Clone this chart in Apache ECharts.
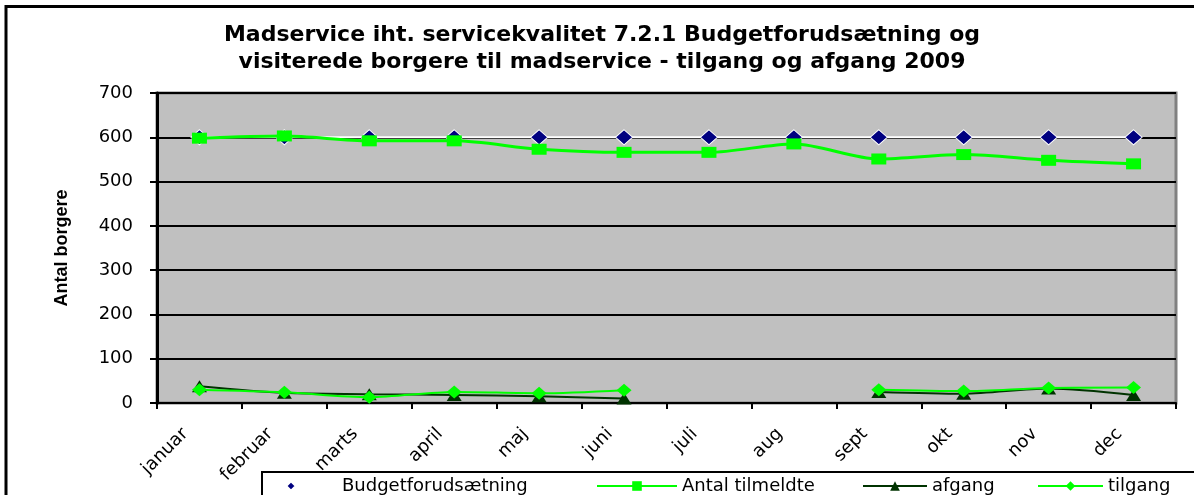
<!DOCTYPE html>
<html>
<head>
<meta charset="utf-8">
<script src="https://cdn.jsdelivr.net/npm/echarts@6/dist/echarts.min.js"></script>
<style>
html,body{margin:0;padding:0;background:#fff;}
#chart{width:1194px;height:495px;}
</style>
</head>
<body>
<div id="chart"></div>
<script>
const titleLines = ['Madservice iht. servicekvalitet 7.2.1 Budgetforudsætning og', 'visiterede borgere til madservice - tilgang og afgang 2009'];
const yAxisName = 'Antal borgere';
const months = ['januar','februar','marts','april','maj','juni','juli','aug','sept','okt','nov','dec'];
const yTicks = { min: 0, max: 700, interval: 100 };
const seriesNames = ['Budgetforudsætning','Antal tilmeldte','afgang','tilgang'];
const budget = [600,600,600,600,600,600,600,600,600,600,600,600];
const antalTilmeldte = [598,603,592,592,573,566,566,585,551,561,548,540];
const afgang = [38,23,20,18,15,10,null,null,25,21,33,18];
const tilgang = [30,24,13,25,22,29,null,null,30,27,34,35];

const FONT = 'DejaVu Sans';
const chart = echarts.init(document.getElementById('chart'), null, {renderer:'canvas'});
const legendText = {fontFamily: FONT, fontSize: 18, color: '#000'};
const option = {
  animation: false,
  backgroundColor: '#fff',
  title: {
    text: titleLines.join('\n'),
    left: 602, textAlign: 'center', top: 22, padding: 0,
    textStyle: {fontFamily: FONT, fontWeight: 'bold', fontSize: 22, lineHeight: 27, color: '#000'}
  },
  graphic: [
    {type:'rect', shape:{x:6, y:6.5, width:1250, height:600}, style:{fill:null, stroke:'#000', lineWidth:3}, silent:true},
    {type:'rect', shape:{x:262, y:472, width:1000, height:60}, style:{fill:'#fff', stroke:'#000', lineWidth:2}, silent:true, z:5}
  ],
  legend: [
    {data:[seriesNames[0]], left: 282, top: 477, itemWidth: 16, itemHeight: 12, itemGap: 0, padding: 0, textStyle: Object.assign({}, legendText, {padding:[0,0,0,38]}), z: 10},
    {data:[seriesNames[1]], left: 596, top: 477, itemWidth: 80, itemHeight: 12, padding: 0, textStyle: legendText, z: 10},
    {data:[seriesNames[2]], left: 862, top: 477, itemWidth: 64, itemHeight: 12, padding: 0, textStyle: legendText, z: 10},
    {data:[seriesNames[3]], left: 1037, top: 477, itemWidth: 65, itemHeight: 12, padding: 0, textStyle: legendText, z: 10}
  ],
  grid: {
    left: 157, right: 18, top: 93, bottom: 92,
    show: true, backgroundColor: '#C0C0C0', borderColor: '#808080', borderWidth: 3
  },
  xAxis: {
    type: 'category', data: months, boundaryGap: true,
    axisLine: {lineStyle: {color: '#000', width: 2}},
    axisTick: {show: true, interval: 0, length: 6, lineStyle: {color: '#000', width: 2}},
    axisLabel: {interval: 0, rotate: 45, margin: 14, padding: [0, 20, 0, 0], fontFamily: FONT, fontSize: 18, color: '#000'}
  },
  yAxis: {
    type: 'value', min: yTicks.min, max: yTicks.max, interval: yTicks.interval,
    name: yAxisName, nameLocation: 'middle', nameRotate: 90, nameGap: 86,
    nameTextStyle: {fontFamily: 'Liberation Sans', fontWeight: 'bold', fontSize: 18, color: '#000'},
    axisLine: {show: true, lineStyle: {color: '#000', width: 3}},
    axisTick: {show: true, length: 7, lineStyle: {color: '#000', width: 2}},
    axisLabel: {fontFamily: FONT, fontSize: 18, color: '#000', margin: 24},
    splitLine: {show: true, lineStyle: {color: '#000', width: 2}}
  },
  series: [
    {
      name: seriesNames[0], type: 'line', data: budget,
      symbol: 'diamond', symbolSize: [17, 15],
      lineStyle: {color: '#fff', width: 2},
      itemStyle: {color: '#000080', borderColor: '#fff', borderWidth: 1},
      z: 2
    },
    {
      name: seriesNames[1], type: 'line', data: antalTilmeldte, smooth: 0.3,
      symbol: 'rect', symbolSize: [15, 11],
      lineStyle: {color: '#00FF00', width: 3},
      itemStyle: {color: '#00FF00', borderWidth: 0},
      z: 3
    },
    {
      name: seriesNames[2], type: 'line', data: afgang, smooth: 0.3, connectNulls: false,
      symbol: 'triangle', symbolSize: [15, 12],
      lineStyle: {color: '#003300', width: 2},
      itemStyle: {color: '#003300', borderWidth: 0},
      z: 4
    },
    {
      name: seriesNames[3], type: 'line', data: tilgang, smooth: 0.3, connectNulls: false,
      symbol: 'diamond', symbolSize: [15, 13],
      lineStyle: {color: '#00FF00', width: 2},
      itemStyle: {color: '#00FF00', borderWidth: 0},
      z: 5
    }
  ]
};
chart.setOption(option);
</script>
</body>
</html>
